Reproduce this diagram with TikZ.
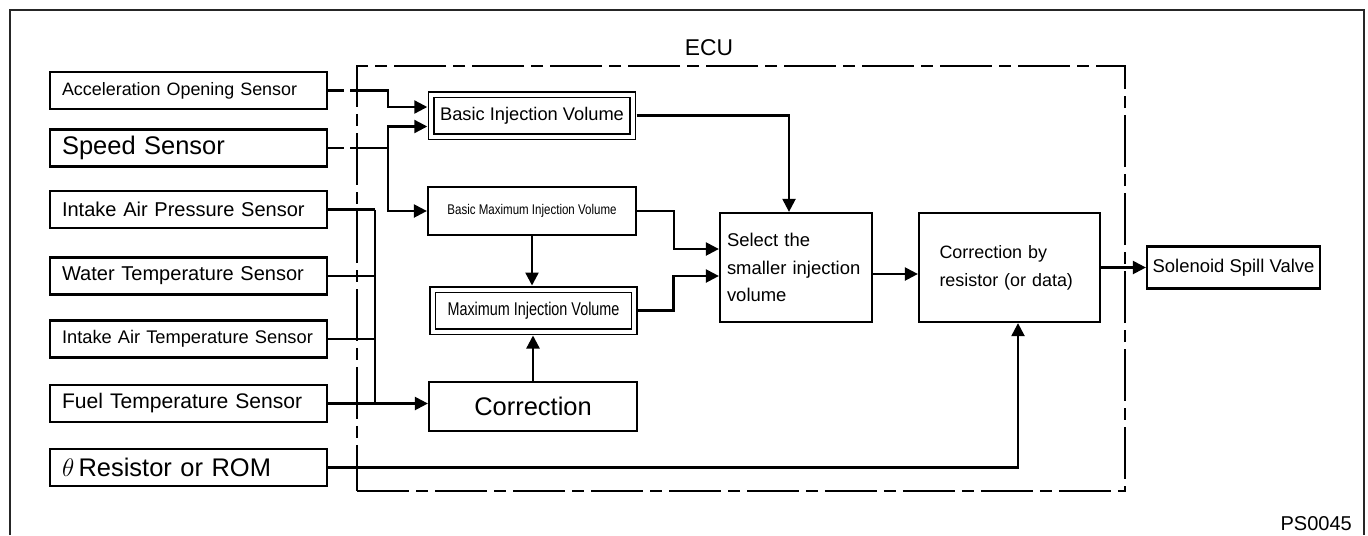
\documentclass[tikz,border=0pt]{standalone}
\usepackage{fontspec}
\setmainfont{Liberation Sans}
\usepackage{graphicx}
\usetikzlibrary{arrows.meta}

\begin{document}
\begin{tikzpicture}[x=0.02cm,y=-0.02cm,line width=1.3pt,
  sensor/.style={draw,minimum width=5.54cm,minimum height=0.74cm,text width=5.06cm,inner xsep=0.24cm,inner ysep=0pt,align=left},
  box/.style={draw,inner sep=0pt,align=center},
  dbox/.style={draw,line width=1pt,double,double distance=0.08cm,outer sep=0.08cm,inner sep=0pt,align=center},
  arrow/.style={-{Triangle[length=0.26cm,width=0.26cm]}},
  gap/.style={dash pattern=on 0.32cm off 0.12cm on 30cm},
  ecubox/.style={draw,dash pattern=on 1.04cm off 0.14cm on 0.24cm off 0.14cm}]
\useasboundingbox (0,0) rectangle (1368,535);
\draw[black!85,line width=1.5pt] (10,535) |- (1364,10) -- (1364,535);
% ECU frame
\node[ecubox,minimum width=15.36cm,minimum height=8.5cm] (ecu) at (741,278.5) {};
\node[font=\fontsize{13}{15}\selectfont] (ecutext) at (709,48) {ECU};
% sensors
\node[sensor,font=\fontsize{10.2}{12}\selectfont] (acc) at (188.5,90.5) {Acceleration Opening Sensor};
\node[sensor,font=\fontsize{14.5}{16}\selectfont] (speed) at (188.5,148) {Speed Sensor};
\node[sensor,font=\fontsize{11.4}{13}\selectfont] (iap) at (188.5,209.5) {Intake Air Pressure Sensor};
\node[sensor,font=\fontsize{11.4}{13}\selectfont] (water) at (188.5,276) {Water Temperature Sensor};
\node[sensor,font=\fontsize{10.4}{12}\selectfont] (iat) at (188.5,339) {Intake Air Temperature Sensor};
\node[sensor,font=\fontsize{12}{14}\selectfont] (fuel) at (188.5,403.5) {Fuel Temperature Sensor};
\node[sensor,font=\fontsize{14.5}{16}\selectfont] (theta) at (188.5,467.5) {$\theta$\,Resistor or ROM};
% blocks in the ECU
\node[dbox,minimum width=4.03cm,minimum height=0.84cm,font=\fontsize{10.4}{12}\selectfont] (biv) at (532,115.5) {Basic Injection Volume};
\node[box,minimum width=4.16cm,minimum height=0.96cm,font=\fontsize{8}{10}\selectfont] (bmiv) at (532,211) {\scalebox{0.82}[1]{Basic Maximum Injection Volume}};
\node[dbox,minimum width=4.04cm,minimum height=0.84cm,font=\fontsize{10.5}{12}\selectfont] (miv) at (533.5,310.5) {\scalebox{0.78}[1]{Maximum Injection Volume}};
\node[box,minimum width=4.16cm,minimum height=0.98cm,font=\fontsize{14.5}{16}\selectfont] (corr) at (533,406.5) {Correction};
\node[box,minimum width=3.04cm,minimum height=2.18cm,text width=2.76cm,align=left,font=\fontsize{10.5}{15.6}\selectfont] (sel) at (796,267.5) {Select the\\smaller injection\\volume};
\node[box,minimum width=3.62cm,minimum height=2.18cm,text width=2.8cm,align=left,font=\fontsize{10.2}{16}\selectfont] (cbr) at (1009.5,267.5) {Correction by\\resistor (or data)};
\node[box,minimum width=3.46cm,minimum height=0.84cm,font=\fontsize{10.5}{12}\selectfont] (sol) at (1233.5,267.5) {Solenoid Spill Valve};
% connectors
\draw[arrow,gap] (acc.east) -- ++(60,0) |- ([yshift=0.17cm]biv.west);
\draw[arrow,gap] (speed.east) -- ++(60,0) |- ([yshift=-0.22cm]biv.west);
\draw[arrow] (speed.east) ++(60,0) |- (bmiv.west);
\draw (iap.east) -- ++(47,0) coordinate (bus);
\draw (bus) -- (bus |- fuel.east);
\draw (water.east) -- (water.east -| bus);
\draw (iat.east) -- (iat.east -| bus);
\draw[arrow] (fuel.east) -- (fuel.east -| corr.west);
\draw[arrow] (theta.east) -| ([xshift=0.17cm]cbr.south);
\draw[arrow] (biv.east) -| ([xshift=-0.14cm]sel.north);
\draw[arrow] (bmiv.east) -- ++(37,0) |- ([yshift=0.37cm]sel.west);
\draw[arrow] (miv.east) -- ++(35,0) |- ([yshift=-0.17cm]sel.west);
\draw[arrow] (bmiv.south) -- (bmiv.south |- miv.north);
\draw[arrow] (corr.north) -- (corr.north |- miv.south);
\draw[arrow] ([yshift=-0.13cm]sel.east) -- ([yshift=-0.13cm]cbr.west);
\draw[arrow] (cbr.east) -- (sol.west);
\node[font=\fontsize{11.4}{13}\selectfont,anchor=base east,inner sep=0pt] (code) at (1353,530) {PS0045};
\end{tikzpicture}
\end{document}
